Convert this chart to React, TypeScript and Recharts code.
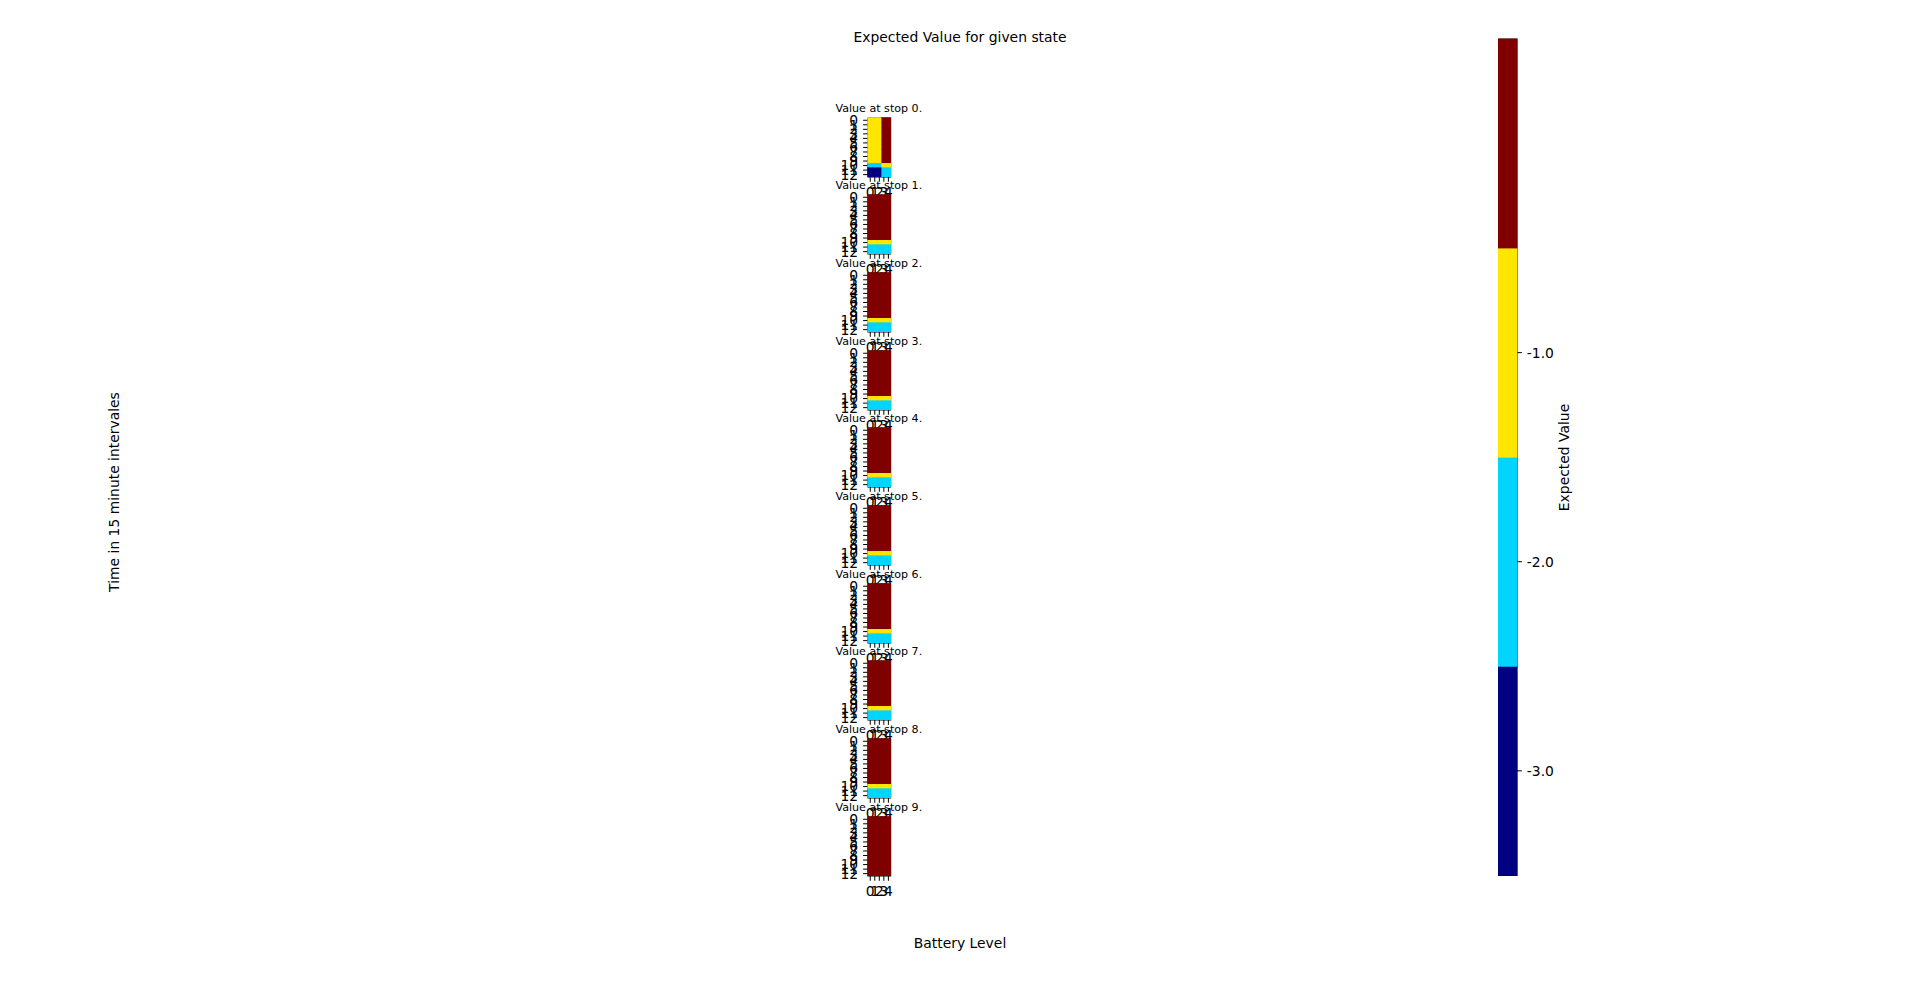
import { ScatterChart, Scatter, XAxis, YAxis, ReferenceArea } from 'recharts';

// grid axes
const colTicks = [0, 1, 2, 3, 4];
const rowTicks = [0, 1, 2, 3, 4, 5, 6, 7, 8, 9, 10, 11, 12];

// discrete colour levels (jet, 4 steps)
const levelValues = [-3, -2, -1, 0];
const levelColors = ['#000080', '#00d4ff', '#ffe600', '#800000'];
const colorbarTicks = [-1, -2, -3];

// expected value per (time row, battery column), one grid per stop
const stop0 = [
  [-1, -1, -1, 0, 0], [-1, -1, -1, 0, 0], [-1, -1, -1, 0, 0], [-1, -1, -1, 0, 0], [-1, -1, -1, 0, 0],
  [-1, -1, -1, 0, 0], [-1, -1, -1, 0, 0], [-1, -1, -1, 0, 0], [-1, -1, -1, 0, 0], [-1, -1, -1, 0, 0],
  [-2, -2, -2, -1, -1], [-3, -3, -3, -2, -2], [-3, -3, -3, -2, -2],
];
const stop1 = [
  [0, 0, 0, 0, 0], [0, 0, 0, 0, 0], [0, 0, 0, 0, 0], [0, 0, 0, 0, 0], [0, 0, 0, 0, 0],
  [0, 0, 0, 0, 0], [0, 0, 0, 0, 0], [0, 0, 0, 0, 0], [0, 0, 0, 0, 0], [0, 0, 0, 0, 0],
  [-1, -1, -1, -1, -1], [-2, -2, -2, -2, -2], [-2, -2, -2, -2, -2],
];
const stop2 = [
  [0, 0, 0, 0, 0], [0, 0, 0, 0, 0], [0, 0, 0, 0, 0], [0, 0, 0, 0, 0], [0, 0, 0, 0, 0],
  [0, 0, 0, 0, 0], [0, 0, 0, 0, 0], [0, 0, 0, 0, 0], [0, 0, 0, 0, 0], [0, 0, 0, 0, 0],
  [-1, -1, -1, -1, -1], [-2, -2, -2, -2, -2], [-2, -2, -2, -2, -2],
];
const stop3 = [
  [0, 0, 0, 0, 0], [0, 0, 0, 0, 0], [0, 0, 0, 0, 0], [0, 0, 0, 0, 0], [0, 0, 0, 0, 0],
  [0, 0, 0, 0, 0], [0, 0, 0, 0, 0], [0, 0, 0, 0, 0], [0, 0, 0, 0, 0], [0, 0, 0, 0, 0],
  [-1, -1, -1, -1, -1], [-2, -2, -2, -2, -2], [-2, -2, -2, -2, -2],
];
const stop4 = [
  [0, 0, 0, 0, 0], [0, 0, 0, 0, 0], [0, 0, 0, 0, 0], [0, 0, 0, 0, 0], [0, 0, 0, 0, 0],
  [0, 0, 0, 0, 0], [0, 0, 0, 0, 0], [0, 0, 0, 0, 0], [0, 0, 0, 0, 0], [0, 0, 0, 0, 0],
  [-1, -1, -1, -1, -1], [-2, -2, -2, -2, -2], [-2, -2, -2, -2, -2],
];
const stop5 = [
  [0, 0, 0, 0, 0], [0, 0, 0, 0, 0], [0, 0, 0, 0, 0], [0, 0, 0, 0, 0], [0, 0, 0, 0, 0],
  [0, 0, 0, 0, 0], [0, 0, 0, 0, 0], [0, 0, 0, 0, 0], [0, 0, 0, 0, 0], [0, 0, 0, 0, 0],
  [-1, -1, -1, -1, -1], [-2, -2, -2, -2, -2], [-2, -2, -2, -2, -2],
];
const stop6 = [
  [0, 0, 0, 0, 0], [0, 0, 0, 0, 0], [0, 0, 0, 0, 0], [0, 0, 0, 0, 0], [0, 0, 0, 0, 0],
  [0, 0, 0, 0, 0], [0, 0, 0, 0, 0], [0, 0, 0, 0, 0], [0, 0, 0, 0, 0], [0, 0, 0, 0, 0],
  [-1, -1, -1, -1, -1], [-2, -2, -2, -2, -2], [-2, -2, -2, -2, -2],
];
const stop7 = [
  [0, 0, 0, 0, 0], [0, 0, 0, 0, 0], [0, 0, 0, 0, 0], [0, 0, 0, 0, 0], [0, 0, 0, 0, 0],
  [0, 0, 0, 0, 0], [0, 0, 0, 0, 0], [0, 0, 0, 0, 0], [0, 0, 0, 0, 0], [0, 0, 0, 0, 0],
  [-1, -1, -1, -1, -1], [-2, -2, -2, -2, -2], [-2, -2, -2, -2, -2],
];
const stop8 = [
  [0, 0, 0, 0, 0], [0, 0, 0, 0, 0], [0, 0, 0, 0, 0], [0, 0, 0, 0, 0], [0, 0, 0, 0, 0],
  [0, 0, 0, 0, 0], [0, 0, 0, 0, 0], [0, 0, 0, 0, 0], [0, 0, 0, 0, 0], [0, 0, 0, 0, 0],
  [-1, -1, -1, -1, -1], [-2, -2, -2, -2, -2], [-2, -2, -2, -2, -2],
];
const stop9 = [
  [0, 0, 0, 0, 0], [0, 0, 0, 0, 0], [0, 0, 0, 0, 0], [0, 0, 0, 0, 0], [0, 0, 0, 0, 0],
  [0, 0, 0, 0, 0], [0, 0, 0, 0, 0], [0, 0, 0, 0, 0], [0, 0, 0, 0, 0], [0, 0, 0, 0, 0],
  [0, 0, 0, 0, 0], [0, 0, 0, 0, 0], [0, 0, 0, 0, 0],
];
const stops = [stop0, stop1, stop2, stop3, stop4, stop5, stop6, stop7, stop8, stop9];

const FONT = 'DejaVu Sans, sans-serif';

// layout of the small panels (page pixels)
const BOX_LEFT = 867.5;
const BOX_W = 22.65;
const BOX_TOP = 117.5;
const BOX_H = 58.9;
const STEP = 77.67;
const AXIS_W = 40;
const M_TOP = 20;
const M_RIGHT = 20;
const X_AXIS_H = 30;

// colorbar
const CB_LEFT = 1498.3;
const CB_W = 19;
const CB_TOP = 39.3;
const CB_H = 836.4;

const tickStyle = { fontSize: 13.9, fill: '#000', fontFamily: FONT };
const tickLineStyle = { stroke: '#000', strokeWidth: 1 };

const colorOf = (v: number) => levelColors[levelValues.indexOf(v)];

const Panel = ({ grid, index }: { grid: number[][]; index: number }) => {
  const cells = grid.flatMap((row, r) => row.map((v, c) => ({ x: colTicks[c], y: rowTicks[r], v })));
  const cw = BOX_W / colTicks.length;
  const ch = BOX_H / rowTicks.length;
  const top = BOX_TOP + index * STEP;

  return (
    <div style={{ position: 'absolute', left: BOX_LEFT - AXIS_W, top: top - M_TOP }}>
      <ScatterChart
        width={AXIS_W + BOX_W + M_RIGHT}
        height={M_TOP + BOX_H + X_AXIS_H}
        margin={{ top: M_TOP, right: M_RIGHT, bottom: 0, left: 0 }}
      >
        <XAxis
          type="number"
          dataKey="x"
          domain={[-0.5, 4.5]}
          ticks={colTicks}
          interval={0}
          axisLine={false}
          tickSize={4.9}
          tickMargin={4.9}
          tick={tickStyle}
          tickLine={tickLineStyle}
          height={X_AXIS_H}
        />
        <YAxis
          type="number"
          dataKey="y"
          domain={[-0.5, 12.5]}
          reversed
          ticks={rowTicks}
          interval={0}
          axisLine={false}
          tickSize={4.9}
          tickMargin={4.9}
          tick={tickStyle}
          tickLine={tickLineStyle}
          width={AXIS_W}
        />
        <Scatter
          data={cells}
          isAnimationActive={false}
          shape={(p: any) => (
            <rect
              x={p.cx - cw / 2}
              y={p.cy - ch / 2}
              width={cw}
              height={ch}
              fill={colorOf(p.payload.v)}
              stroke={colorOf(p.payload.v)}
              strokeWidth={0.6}
              shapeRendering="crispEdges"
            />
          )}
        />
        <ReferenceArea
          x1={-0.5}
          x2={4.5}
          y1={-0.5}
          y2={12.5}
          fill="none"
          stroke="#000"
          strokeWidth={1.1}
          ifOverflow="visible"
        />
      </ScatterChart>
    </div>
  );
};

const levelPoints = levelValues.map((v, i) => ({ x: 0.5, y: v, c: levelColors[i] }));

const Colorbar = () => {
  const segH = CB_H / levelValues.length;
  return (
    <div style={{ position: 'absolute', left: CB_LEFT, top: CB_TOP - M_TOP }}>
      <ScatterChart
        width={CB_W + 60}
        height={CB_H + M_TOP + 20}
        margin={{ top: M_TOP, right: 0, bottom: 20, left: 0 }}
      >
        <XAxis type="number" dataKey="x" domain={[0, 1]} hide />
        <YAxis
          type="number"
          dataKey="y"
          orientation="right"
          domain={[-3.5, 0.5]}
          ticks={colorbarTicks}
          interval={0}
          axisLine={false}
          tickSize={4.9}
          tickMargin={4.9}
          tick={tickStyle}
          tickLine={tickLineStyle}
          tickFormatter={(v: number) => v.toFixed(1)}
          width={60}
        />
        <Scatter
          data={levelPoints}
          isAnimationActive={false}
          shape={(p: any) => (
            <rect
              x={p.cx - CB_W / 2}
              y={p.cy - segH / 2}
              width={CB_W}
              height={segH}
              fill={p.payload.c}
              stroke={p.payload.c}
              strokeWidth={0.5}
            />
          )}
        />
        <ReferenceArea
          x1={0}
          x2={1}
          y1={-3.5}
          y2={0.5}
          fill="none"
          stroke="#000"
          strokeWidth={1.1}
          ifOverflow="visible"
        />
      </ScatterChart>
    </div>
  );
};

export default function App() {
  return (
    <div
      style={{
        position: 'absolute',
        left: 0,
        top: 0,
        width: 1920,
        height: 983,
        background: '#fff',
        fontFamily: FONT,
        overflow: 'hidden',
      }}
    >
      <svg width={1920} height={983} style={{ position: 'absolute', left: 0, top: 0 }}>
        <g fontFamily={FONT} fill="#000">
          <text x={960} y={42} textAnchor="middle" fontSize={13.9}>
            Expected Value for given state
          </text>
          {stops.map((_, i) => (
            <text
              key={i}
              x={BOX_LEFT + BOX_W / 2}
              y={BOX_TOP + i * STEP - 6}
              textAnchor="middle"
              fontSize={11.1}
            >
              {`Value at stop ${i}.`}
            </text>
          ))}
          <text x={960} y={948} textAnchor="middle" fontSize={13.9}>
            Battery Level
          </text>
          <text x={119} y={492} textAnchor="middle" fontSize={13.9} transform="rotate(-90 119 492)">
            Time in 15 minute intervales
          </text>
          <text x={1569} y={457.5} textAnchor="middle" fontSize={13.9} transform="rotate(-90 1569 457.5)">
            Expected Value
          </text>
        </g>
      </svg>
      {stops.map((grid, i) => (
        <Panel key={i} grid={grid} index={i} />
      ))}
      <Colorbar />
    </div>
  );
}
